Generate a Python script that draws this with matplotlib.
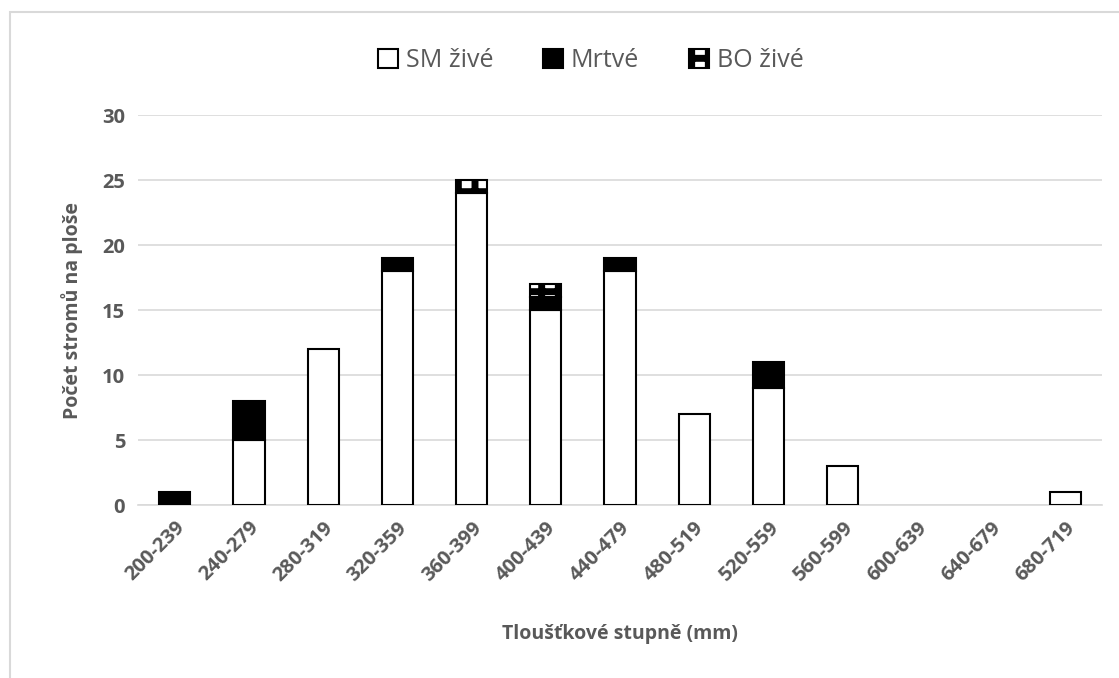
import numpy as np
import matplotlib.pyplot as plt
from matplotlib.patches import Rectangle

plt.rcParams['font.family'] = ['Open Sans', 'DejaVu Sans']
plt.rcParams['hatch.linewidth'] = 5.0

# data
categories = ['200-239', '240-279', '280-319', '320-359', '360-399', '400-439', '440-479',
              '480-519', '520-559', '560-599', '600-639', '640-679', '680-719']
sm_zive = [0, 5, 12, 18, 24, 15, 18, 7, 9, 3, 0, 0, 1]
mrtve = [1, 3, 0, 1, 0, 1, 1, 0, 2, 0, 0, 0, 0]
bo_zive = [0, 0, 0, 0, 1, 1, 0, 0, 0, 0, 0, 0, 0]

grey = '#595959'

fig = plt.figure(figsize=(11.19, 6.78), dpi=100)
ax = fig.add_axes([0.123, 0.255, 0.862, 0.575])

x = np.arange(len(categories))
w = 0.42
sm = np.array(sm_zive)
mr = np.array(mrtve)
bo = np.array(bo_zive)

def stacked(vals, bottom, **kw):
    m = vals > 0
    return ax.bar(x[m], vals[m], w, bottom=bottom[m], edgecolor='black', linewidth=1.5,
                  zorder=3, **kw)

stacked(sm, np.zeros_like(sm), color='white', label='SM živé')
stacked(mr, sm, color='black', label='Mrtvé')
stacked(bo, sm + mr, color='white', hatch='+', label='BO živé')

ax.set_ylim(0, 30)
ax.set_xlim(-0.5, len(categories) - 0.5)
ax.set_yticks(range(0, 31, 5))
ax.set_xticks(x)
ax.set_xticklabels(categories, rotation=45, ha='right', rotation_mode='anchor')
ax.tick_params(axis='both', length=0, labelsize=14.5, colors=grey, pad=9)
for lab in ax.get_xticklabels() + ax.get_yticklabels():
    lab.set_fontweight('bold')

ax.grid(axis='y', color='#d9d9d9', linewidth=1.2, zorder=0)
for s in ['top', 'right', 'left']:
    ax.spines[s].set_visible(False)
ax.spines['bottom'].set_color('#d9d9d9')
ax.spines['bottom'].set_linewidth(1.2)

ax.set_xlabel('Tloušťkové stupně (mm)', fontsize=14, fontweight='bold', color=grey, labelpad=28)
ax.set_ylabel('Počet stromů na ploše', fontsize=14, fontweight='bold', color=grey, labelpad=14)

leg = ax.legend(loc='lower center', bbox_to_anchor=(0.47, 1.05), ncol=3, frameon=False,
                fontsize=18, handlelength=0.8, handleheight=0.8, columnspacing=2.0, handletextpad=0.3)
for t in leg.get_texts():
    t.set_color(grey)

fig.patches.append(Rectangle((10 / 1119, -0.1), 1.2, 1 - 12 / 678 + 0.1, transform=fig.transFigure,
                             fill=False, edgecolor='#d9d9d9', linewidth=1.5))

fig.savefig('out.png', dpi=100)
